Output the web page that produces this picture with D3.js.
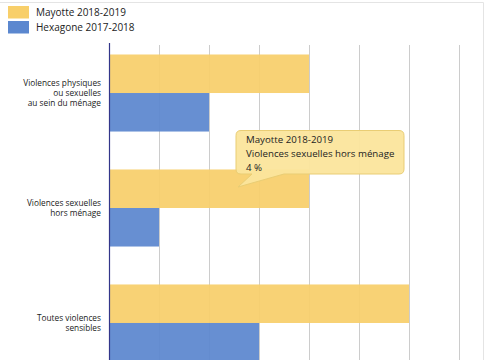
<!DOCTYPE html>
<html>
<head>
<meta charset="utf-8">
<script src="https://cdn.jsdelivr.net/npm/d3@7"></script>
<style>
  body { margin: 0; background: #fff; }
  svg { display: block; font-family: "Open Sans", "DejaVu Sans", sans-serif; }
</style>
</head>
<body>
<div class="container"></div>
<script>
// Data
const categories = [
    ["Violences physiques", "ou sexuelles", "au sein du ménage"],
    ["Violences sexuelles", "hors ménage"],
    ["Toutes violences", "sensibles"]
]
const series = ["Mayotte 2018-2019", "Hexagone 2017-2018"]
const mayotte = [4, 4, 6]
const hexagone = [2, 1, 3]
const xTicks = [0, 1, 2, 3, 4, 5, 6, 7]
const colors = ["#f8cf6a", "#5b87cf"]

let width = 485
let height = 360
let left = 109

const svg = d3.select(".container")
    .append("svg")
    .attr("width", width)
    .attr("height", height)

const rows = categories.map((c, i) => ({label: c, values: [mayotte[i], hexagone[i]]}))

// Scales
const xScale = d3.scaleLinear()
    .domain([0, 8])
    .range([left, left + 400])

const yScale = d3.scaleBand()
    .domain(d3.range(categories.length))
    .range([43, 373])
    .paddingInner(0.33)
    .paddingOuter(0.1)

const subScale = d3.scaleBand()
    .domain(d3.range(series.length))
    .range([0, yScale.bandwidth()])

// Frame
svg.append("line")
    .attr("x1", 0).attr("x2", 483.5)
    .attr("y1", 2.5).attr("y2", 2.5)
    .attr("stroke", "#e4e4e4")
svg.append("line")
    .attr("x1", 483.5).attr("x2", 483.5)
    .attr("y1", 2.5).attr("y2", height)
    .attr("stroke", "#e4e4e4")

// Grid lines
svg.append("g")
    .selectAll("line")
    .data(xTicks.slice(1))
    .join("line")
    .attr("x1", d => xScale(d) + 0.5)
    .attr("x2", d => xScale(d) + 0.5)
    .attr("y1", 45)
    .attr("y2", height)
    .attr("stroke", "#cccccc")

// Bars
const groups = svg.append("g")
    .selectAll("g")
    .data(rows)
    .join("g")
    .attr("transform", (d, i) => `translate(0, ${yScale(i)})`)

groups.selectAll("rect")
    .data(d => d.values)
    .join("rect")
    .attr("x", xScale(0))
    .attr("y", (d, j) => subScale(j))
    .attr("width", d => xScale(d) - xScale(0))
    .attr("height", subScale.bandwidth())
    .attr("fill", (d, j) => colors[j])
    .attr("fill-opacity", 0.93)

// Axis line
svg.append("line")
    .attr("x1", xScale(0) + 0.5).attr("x2", xScale(0) + 0.5)
    .attr("y1", 43).attr("y2", height)
    .attr("stroke", "#33368a")
    .attr("stroke-width", 1.2)

// Category labels
groups.append("text")
    .attr("text-anchor", "end")
    .attr("font-size", 8.3)
    .attr("fill", "#222")
    .selectAll("tspan")
    .data(d => d.label.map((t, k) => ({t, k, n: d.label.length})))
    .join("tspan")
    .attr("x", 101)
    .attr("y", d => yScale.bandwidth() / 2 + (d.k - (d.n - 1) / 2) * 9.8)
    .attr("dy", "0.35em")
    .text(d => d.t)

// Legend
const legend = svg.append("g")
    .selectAll("g")
    .data(series)
    .join("g")
    .attr("transform", (d, i) => `translate(8, ${6 + i * 15})`)

legend.append("rect")
    .attr("width", 21)
    .attr("height", 12.5)
    .attr("fill", (d, i) => colors[i])

legend.append("text")
    .attr("x", 28)
    .attr("y", 6.5)
    .attr("dy", "0.35em")
    .attr("font-size", 10)
    .attr("fill", "#222")
    .text(d => d)

// Tooltip
const tipLines = [series[0], categories[1].join(" "), mayotte[1] + " %"]
const tip = svg.append("g")

tip.append("path")
    .attr("d", "M241,130.5 H399 Q404,130.5 404,135.5 V169 Q404,174 399,174 H284 L238,187 L252,174 H241 Q236,174 236,169 V135.5 Q236,130.5 241,130.5 Z")
    .attr("fill", "#fbe59c")
    .attr("fill-opacity", 0.95)
    .attr("stroke", "#e9cd74")
    .attr("stroke-width", 1)

tip.selectAll("text")
    .data(tipLines)
    .join("text")
    .attr("x", 246)
    .attr("y", (d, i) => 140 + i * 14)
    .attr("dy", "0.35em")
    .attr("font-size", 9.7)
    .attr("fill", "#222")
    .text(d => d)
</script>
</body>
</html>
